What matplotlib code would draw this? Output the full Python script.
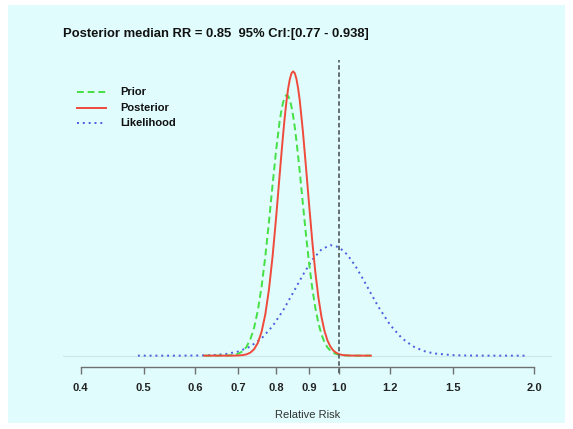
import matplotlib
matplotlib.use("Agg")
import matplotlib.pyplot as plt
from matplotlib.lines import Line2D
from matplotlib.patches import Rectangle
from matplotlib.ticker import NullLocator

plt.rcParams['font.family'] = ['Liberation Sans', 'DejaVu Sans']

# relative risk grid shared by prior and posterior
rr_grid = [0.62, 0.63, 0.64, 0.65, 0.66, 0.67, 0.68, 0.69, 0.70, 0.71,
           0.72, 0.73, 0.74, 0.75, 0.76, 0.77, 0.78, 0.79, 0.80, 0.81,
           0.815, 0.82, 0.825, 0.83, 0.835, 0.84, 0.845, 0.85, 0.855, 0.86,
           0.865, 0.87, 0.88, 0.89, 0.90, 0.91,
           0.92, 0.93, 0.94, 0.95, 0.96, 0.97, 0.98, 0.99, 1.00, 1.01,
           1.02, 1.04, 1.06, 1.08, 1.10, 1.12]

prior = [0.0, 0.0, 0.0, 0.0, 0.0001, 0.0004, 0.0011, 0.0029, 0.0069, 0.0149,
         0.0302, 0.0563, 0.0980, 0.1594, 0.2436, 0.3480, 0.4697, 0.5987, 0.7208, 0.8219,
         0.8604, 0.8897, 0.9087, 0.9167, 0.9136, 0.9001, 0.8760, 0.8431, 0.8029, 0.7553,
         0.7032, 0.6488, 0.5328, 0.4209, 0.3206, 0.2342,
         0.1653, 0.1128, 0.0743, 0.0473, 0.0291, 0.0175, 0.0101, 0.0058, 0.0031, 0.0017,
         0.0009, 0.0002, 0.0, 0.0, 0.0, 0.0]

posterior = [0.0, 0.0, 0.0, 0.0, 0.0, 0.0, 0.0001, 0.0002, 0.0006, 0.0017,
             0.0043, 0.0103, 0.0225, 0.0451, 0.0842, 0.1447, 0.2318, 0.3469, 0.4838, 0.6319,
             0.7045, 0.7741, 0.8381, 0.8940, 0.9392, 0.9723, 0.9931, 1.0000, 0.9934, 0.9733,
             0.9413, 0.8992, 0.7882, 0.6580, 0.5252, 0.3989,
             0.2903, 0.2025, 0.1353, 0.0868, 0.0536, 0.0320, 0.0183, 0.0102, 0.0054, 0.0028,
             0.0014, 0.0003, 0.0001, 0.0, 0.0, 0.0]

rr_lik = [0.49, 0.52, 0.55, 0.58, 0.61, 0.64, 0.67, 0.70, 0.73, 0.76,
          0.79, 0.82, 0.85, 0.88, 0.91, 0.94, 0.97, 1.00, 1.03, 1.06,
          1.09, 1.12, 1.15, 1.20, 1.25, 1.30, 1.35, 1.40, 1.50, 1.60,
          1.70, 1.80, 1.94]

likelihood = [0.0, 0.0, 0.0, 0.0001, 0.0005, 0.0019, 0.0058, 0.0146, 0.0318, 0.0608,
              0.1035, 0.1586, 0.2215, 0.2841, 0.3374, 0.3737, 0.3887, 0.3817, 0.3555, 0.3156,
              0.2682, 0.2190, 0.1721, 0.1072, 0.0615, 0.0328, 0.0164, 0.0078, 0.0015, 0.0003,
              0.0, 0.0, 0.0]

tick_vals = [0.4, 0.5, 0.6, 0.7, 0.8, 0.9, 1.0, 1.2, 1.5, 2.0]
tick_labels = ['0.4', '0.5', '0.6', '0.7', '0.8', '0.9', '1.0', '1.2', '1.5', '2.0']

title = 'Posterior median RR = 0.85  95% CrI:[0.77 - 0.938]'
labels = ['Prior', 'Posterior', 'Likelihood']

W, H = 573, 429
bg = '#e0fcfc'
c_prior = '#44e044'
c_post = '#ef4a3c'
c_lik = '#4a5ee0'

fig = plt.figure(figsize=(W / 100, H / 100), dpi=100, facecolor='white')
fig.patches.append(Rectangle((8 / W, 6 / H), 1 - 16 / W, 1 - 11 / H,
                             transform=fig.transFigure, facecolor=bg,
                             edgecolor='none', zorder=-10))

ax = fig.add_axes([62.6 / W, (H - 367) / H, 489.8 / W, 307 / H])
ax.set_zorder(2)
ax.set_facecolor('none')
ax.set_xscale('log')
ax.set_xlim(0.4 / 5 ** 0.04, 2.0 * 5 ** 0.04)
ax.set_ylim(-0.04, 1.04)

ax.axhline(0, color='#cce8e8', lw=0.8, zorder=1)
ax.plot(rr_lik, likelihood, color=c_lik, lw=1.4, linestyle=(0, (1, 2)), zorder=2)
ax.plot(rr_grid, prior, color=c_prior, lw=1.4, linestyle=(0, (3.5, 2)), zorder=3)
ax.plot(rr_grid, posterior, color=c_post, lw=1.4, zorder=4)
ax.axvline(1.0, ymin=-0.02, ymax=1.0, color='#5a6464', lw=1.3,
           linestyle=(0, (2.5, 1.5)), clip_on=False, zorder=5)

for s in ['top', 'left', 'right']:
    ax.spines[s].set_visible(False)
ax.spines['bottom'].set_bounds(0.4, 2.0)
ax.spines['bottom'].set_color('#707070')
ax.spines['bottom'].set_linewidth(1.0)
ax.set_yticks([])
ax.set_xticks(tick_vals)
ax.set_xticklabels(tick_labels, fontweight='bold', fontsize=8, color='#222222')
ax.xaxis.set_minor_locator(NullLocator())
ax.tick_params(axis='x', direction='out', length=5, width=1.0,
               color='#707070', pad=6.5)

fig.text(307.5 / W, 1 - 415.5 / H, 'Relative Risk', ha='center', va='center',
         fontsize=8, color='#333333')
fig.text(63.3 / W, 1 - 37.3 / H, title, ha='left', va='baseline',
         fontsize=9.4, fontweight='bold', color='#111111')

# legend
styles = [(c_prior, (0, (3.5, 2))), (c_post, '-'), (c_lik, (0, (1, 2)))]
rows = [92.3, 107.6, 123.3]
for lab, (col, ls), yy in zip(labels, styles, rows):
    fig.lines.append(Line2D([76.7 / W, 105.7 / W], [1 - yy / H, 1 - yy / H],
                            transform=fig.transFigure, color=col, lw=1.4,
                            linestyle=ls))
    fig.text(120.7 / W, 1 - yy / H, lab, ha='left', va='center',
             fontsize=8, fontweight='bold', color='#111111')

fig.savefig('out.png', dpi=100, facecolor='white')
